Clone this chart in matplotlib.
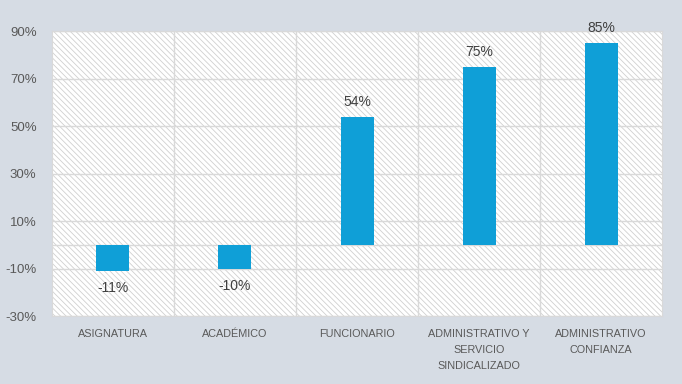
import matplotlib.pyplot as plt
from matplotlib.patches import Rectangle
import numpy as np

plt.rcParams['font.family'] = ['Liberation Sans', 'DejaVu Sans']
plt.rcParams['hatch.linewidth'] = 0.6

categories = ["ASIGNATURA", "ACADÉMICO", "FUNCIONARIO",
              "ADMINISTRATIVO Y\nSERVICIO\nSINDICALIZADO",
              "ADMINISTRATIVO\nCONFIANZA"]
values = [-11, -10, 54, 75, 85]
labels = ["-11%", "-10%", "54%", "75%", "85%"]
yticks = [-30, -10, 10, 30, 50, 70, 90]

fig = plt.figure(figsize=(6.82, 3.84), dpi=100)
fig.patch.set_facecolor('#d6dce4')
ax = fig.add_axes([0.076, 0.177, 0.895, 0.742])
ax.patch.set_facecolor('white')

# hatched background
bg = Rectangle((0, 0), 1, 1, transform=ax.transAxes, facecolor='white',
               edgecolor='#d0d0d0', hatch='\\' * 6, lw=0, zorder=0)
ax.add_patch(bg)

x = np.arange(len(categories))
ax.bar(x, values, width=0.27, color='#0f9fd7', zorder=3)

for xi, v, lab in zip(x, values, labels):
    if v >= 0:
        ax.annotate(lab, (xi, v), xytext=(0, 10.5), textcoords='offset points',
                    ha='center', va='center', fontsize=10, color='#404040')
    else:
        ax.annotate(lab, (xi, v), xytext=(0, -12.5), textcoords='offset points',
                    ha='center', va='center', fontsize=10, color='#404040')

ax.set_xlim(-0.5, len(categories) - 0.5)
ax.set_ylim(-30, 90)
ax.set_yticks(yticks)
ax.set_yticklabels([f"{t}%" for t in yticks], fontsize=9.5, color='#595959')
ax.set_xticks(x)
ax.set_xticklabels(categories, fontsize=7.8, color='#595959', linespacing=1.75, va='top')
ax.tick_params(length=0)
ax.tick_params(axis='y', pad=11)
ax.tick_params(axis='x', pad=9)

for yy in yticks + [0]:
    ax.axhline(yy, color='#d9d9d9', lw=1, zorder=1)
for xx in np.arange(0.5, len(categories) - 0.5):
    ax.axvline(xx, color='#d9d9d9', lw=1, zorder=1)
for s in ax.spines.values():
    s.set_color('#d9d9d9')

fig.savefig('out.png', dpi=100, facecolor=fig.get_facecolor())
